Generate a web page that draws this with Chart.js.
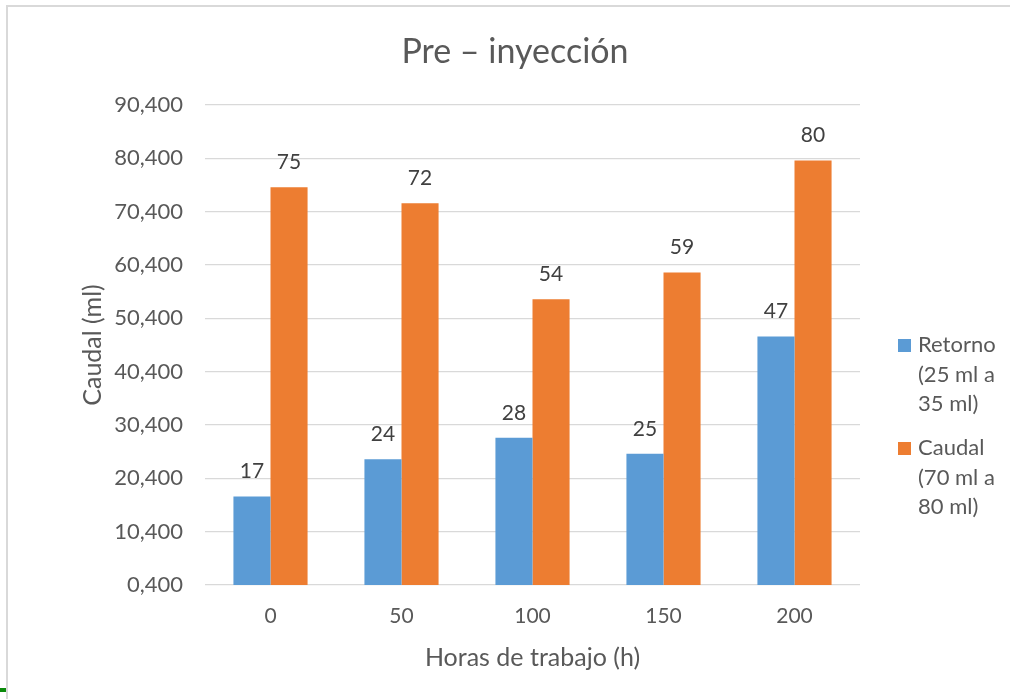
<!DOCTYPE html>
<html>
<head>
<meta charset="utf-8">
<title>Pre – inyección</title>
<script src="https://cdn.jsdelivr.net/npm/chart.js@4.4.1/dist/chart.umd.min.js"></script>
<style>
  html, body { margin: 0; padding: 0; background: #ffffff; }
  #wrap { position: relative; width: 1010px; height: 699px; }
</style>
</head>
<body>
<div id="wrap"><canvas id="chart" width="1010" height="699"></canvas></div>
<script>
// Horas de trabajo (h)
const categories = ['0', '50', '100', '150', '200'];
// Retorno (25 ml a 35 ml)
const retorno = [17, 24, 28, 25, 47];
// Caudal (70 ml a 80 ml)
const caudal = [75, 72, 54, 59, 80];
// y-axis ticks
const yTicks = [0.4, 10.4, 20.4, 30.4, 40.4, 50.4, 60.4, 70.4, 80.4, 90.4];

const titleText = 'Pre – inyección';
const yTitle = 'Caudal (ml)';
const xTitle = 'Horas de trabajo (h)';
const legendLines = [
  ['Retorno', '(25 ml a', '35 ml)'],
  ['Caudal', '(70 ml a', '80 ml)']
];

const FONT = 'Lato, "Open Sans", sans-serif';
const BLUE = '#5B9BD5';
const ORANGE = '#ED7D31';
const TEXT = '#595959';

const decorations = {
  id: 'decorations',
  beforeDraw(chart) {
    const ctx = chart.ctx;
    ctx.save();
    ctx.fillStyle = '#ffffff';
    ctx.fillRect(0, 0, chart.width, chart.height);
    // frame
    ctx.strokeStyle = '#d9d9d9';
    ctx.lineWidth = 2;
    ctx.beginPath();
    ctx.moveTo(7, chart.height);
    ctx.lineTo(7, 6);
    ctx.lineTo(chart.width, 6);
    ctx.stroke();
    ctx.fillStyle = '#0a8a0a';
    ctx.fillRect(0, 688, 6, 4);
    ctx.restore();
  },
  afterDraw(chart) {
    const ctx = chart.ctx;
    ctx.save();
    // title
    ctx.fillStyle = TEXT;
    ctx.font = '34px ' + FONT;
    ctx.textAlign = 'center';
    ctx.textBaseline = 'middle';
    ctx.fillText(titleText, 515, 52);

    // value labels
    ctx.fillStyle = '#404040';
    ctx.font = '21px ' + FONT;
    chart.data.datasets.forEach((ds, i) => {
      const meta = chart.getDatasetMeta(i);
      meta.data.forEach((bar, j) => {
        ctx.fillText(String(ds.data[j]), bar.x, bar.y - 25);
      });
    });

    // legend
    ctx.font = '22px ' + FONT;
    ctx.textAlign = 'left';
    const starts = [345, 448];
    chart.data.datasets.forEach((ds, i) => {
      ctx.fillStyle = ds.backgroundColor;
      ctx.fillRect(898, starts[i] - 6, 13, 13);
      ctx.fillStyle = TEXT;
      legendLines[i].forEach((line, k) => {
        ctx.fillText(line, 918, starts[i] + k * 29.5);
      });
    });
    ctx.restore();
  }
};

new Chart(document.getElementById('chart'), {
  type: 'bar',
  data: {
    labels: categories,
    datasets: [
      { label: legendLines[0].join(' '), data: retorno, backgroundColor: BLUE },
      { label: legendLines[1].join(' '), data: caudal, backgroundColor: ORANGE }
    ]
  },
  options: {
    responsive: false,
    animation: false,
    layout: { padding: { left: 0, top: 105, right: 150, bottom: 0 } },
    datasets: { bar: { barPercentage: 1, categoryPercentage: 0.566 } },
    plugins: { legend: { display: false }, title: { display: false }, tooltip: { enabled: false } },
    scales: {
      x: {
        grid: { display: false, drawTicks: false },
        border: { display: false },
        ticks: { color: TEXT, font: { family: FONT, size: 21 }, padding: 19 },
        title: { display: true, text: xTitle, color: TEXT, font: { family: FONT, size: 25 }, padding: { top: 0, bottom: 26 } },
        afterFit(scale) { scale.height = 114; }
      },
      y: {
        min: yTicks[0],
        max: yTicks[yTicks.length - 1],
        afterBuildTicks(scale) { scale.ticks = yTicks.map(v => ({ value: v })); },
        grid: { color: '#d9d9d9', lineWidth: 1.3, drawTicks: false },
        border: { display: false },
        ticks: {
          color: TEXT,
          font: { family: FONT, size: 22 },
          padding: 22,
          callback: (v) => Number(v).toFixed(3).replace('.', ',')
        },
        title: { display: true, text: yTitle, color: TEXT, font: { family: FONT, size: 25 }, padding: { top: 78, bottom: 0 } },
        afterFit(scale) { scale.width = 205; }
      }
    }
  },
  plugins: [decorations]
});
</script>
</body>
</html>
